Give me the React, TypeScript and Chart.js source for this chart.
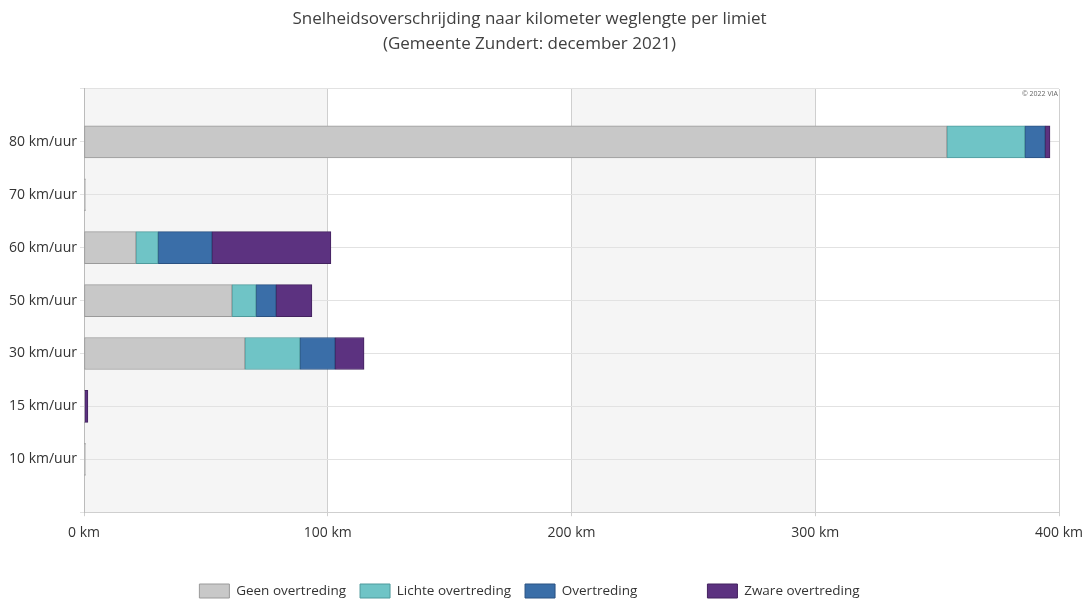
import React, { useEffect, useRef } from "react";
import { Chart, registerables } from "chart.js";

Chart.register(...registerables);

const categories = ["80 km/uur", "70 km/uur", "60 km/uur", "50 km/uur", "30 km/uur", "15 km/uur", "10 km/uur"];
const geenOvertreding = [354, 0.6, 21.3, 60.7, 66, 0.3, 0.6];
const lichteOvertreding = [32, 0, 9.1, 9.9, 22.6, 0, 0];
const overtreding = [8.3, 0, 22.1, 8.2, 14.4, 0, 0];
const zwareOvertreding = [2, 0, 48.8, 14.7, 11.9, 1.3, 0];
const xTicks = [0, 100, 200, 300, 400];
const titleLines = ["Snelheidsoverschrijding naar kilometer weglengte per limiet", "(Gemeente Zundert: december 2021)"];
const seriesNames = ["Geen overtreding", "Lichte overtreding", "Overtreding", "Zware overtreding"];
const fills = ["#c8c8c8", "#6fc4c6", "#3a6ea8", "#5c3280"];
const borders = ["#9a9a9a", "#4f9a9c", "#2a5282", "#43225f"];
const credit = "© 2022 VIA";

const FONT = "'Open Sans', sans-serif";

const pad = (arr: number[]) => [null, ...arr, null];

const bandsPlugin = {
  id: "bands",
  beforeDraw(chart: any) {
    const { ctx, chartArea, scales } = chart;
    const x = scales.x;
    ctx.save();
    ctx.fillStyle = "#f5f5f5";
    for (let i = 0; i < xTicks.length - 1; i += 2) {
      const x0 = x.getPixelForValue(xTicks[i]);
      const x1 = x.getPixelForValue(xTicks[i + 1]);
      ctx.fillRect(x0, chartArea.top, x1 - x0, chartArea.bottom - chartArea.top);
    }
    ctx.restore();
  },
  afterDraw(chart: any) {
    const { ctx, chartArea } = chart;
    ctx.save();
    ctx.font = `7px ${FONT}`;
    ctx.fillStyle = "#666";
    ctx.textAlign = "right";
    ctx.textBaseline = "middle";
    ctx.fillText(credit, chartArea.right - 1, chartArea.top + 5);
    ctx.restore();
  },
};

export default function App() {
  const ref = useRef<HTMLCanvasElement>(null);
  useEffect(() => {
    document.body.style.margin = "0";
    const data = [geenOvertreding, lichteOvertreding, overtreding, zwareOvertreding];
    const chart = new Chart(ref.current!, {
      type: "bar",
      data: {
        labels: ["", ...categories, ""],
        datasets: data.map((d, i) => ({
          label: seriesNames[i],
          data: pad(d) as any,
          backgroundColor: fills[i],
          borderColor: borders[i],
          borderWidth: 1,
          borderSkipped: false,
          barThickness: 32,
        })),
      },
      options: {
        indexAxis: "y",
        animation: false,
        responsive: false,
        maintainAspectRatio: false,
        layout: { padding: { left: 0, right: 26, top: 0, bottom: 0 } },
        plugins: {
          title: {
            display: true,
            text: titleLines,
            color: "#404040",
            font: { family: FONT, size: 17, weight: "normal", lineHeight: 1.47 },
            padding: { top: 7, bottom: 32 },
          },
          legend: {
            display: true,
            position: "bottom",
            labels: {
              color: "#333",
              font: { family: FONT, size: 13.5 },
              boxWidth: 30,
              boxHeight: 14,
              padding: 14,
              generateLabels: (chart: any) => {
                const base = Chart.defaults.plugins.legend.labels.generateLabels(chart);
                return base.map((l: any, i: number) => ({
                  ...l,
                  text: i === 2 ? l.text + "                " : l.text,
                }));
              },
            },
          },
          tooltip: { enabled: false },
        },
        scales: {
          x: {
            stacked: true,
            type: "linear",
            min: 0,
            max: 400,
            afterBuildTicks: (s: any) => {
              s.ticks = xTicks.map((v) => ({ value: v }));
            },
            afterFit: (s: any) => {
              s.height += 21;
              s.paddingRight = 0;
              s.paddingLeft = 0;
            },
            ticks: {
              color: "#333",
              font: { family: FONT, size: 14 },
              callback: (v: any) => `${v} km`,
              padding: 8,
            },
            grid: { color: "#cfcfcf", lineWidth: 1, tickLength: 4 },
            border: { color: "#cfcfcf" },
          },
          y: {
            stacked: true,
            offset: false,
            afterFit: (s: any) => {
              s.width = 84;
            },
            ticks: {
              color: "#333",
              font: { family: FONT, size: 14 },
              padding: 3,
            },
            grid: { color: "#e2e2e2", lineWidth: 1, tickLength: 4, offset: false },
            border: { color: "#bbbbbb" },
          },
        },
      },
      plugins: [bandsPlugin],
    });
    return () => chart.destroy();
  }, []);
  return (
    <div style={{ width: 1085, height: 608 }}>
      <canvas ref={ref} width={1085} height={608} />
    </div>
  );
}
